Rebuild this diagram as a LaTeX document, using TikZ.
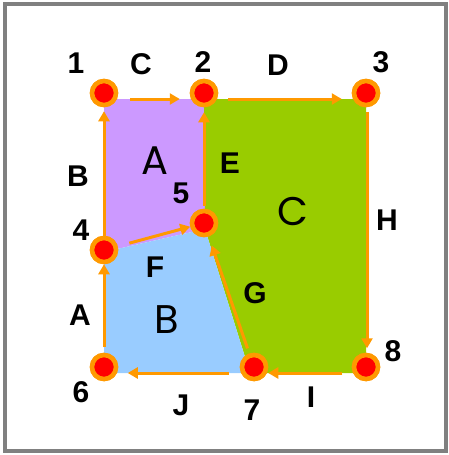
\documentclass[tikz,border=0pt]{standalone}
\usepackage{fontspec}
\setmainfont{Liberation Sans}
\newfontfamily\regfont{Poppins}
\usetikzlibrary{arrows.meta}
\definecolor{cpurple}{HTML}{CC99FF}
\definecolor{cgreen}{HTML}{99CC00}
\definecolor{cblue}{HTML}{99CCFF}
\definecolor{corange}{HTML}{FF9900}
\definecolor{cred}{HTML}{FF0000}
\definecolor{cframe}{HTML}{808080}
\tikzset{
  vtx/.style={circle, fill=cred, draw=corange, line width=4.5pt, minimum size=24pt, inner sep=0pt},
  arr/.style={draw=corange, line width=3pt, -{Triangle[length=10pt,width=11pt]}},
  lbl/.style={font=\fontsize{30}{30}\selectfont\bfseries, text=black, inner sep=0pt},
  reg/.style={font=\fontsize{40}{40}\regfont, text=black, inner sep=0pt}
}
\begin{document}
\begin{tikzpicture}[x=1pt,y=-1pt]
\useasboundingbox (0,0) rectangle (449,455);
\draw[cframe, line width=4.5pt] (5,4) rectangle (446,451);
% polygon corners
\coordinate (p1) at (104,99);
\coordinate (p2) at (204,99);
\coordinate (p3) at (366,99);
\coordinate (p4) at (104,252);
\coordinate (p5) at (205,229);
\coordinate (p6) at (104,373);
\coordinate (p7) at (250,373);
\coordinate (p8) at (366,373);
\fill[cpurple] (p1) -- (p2) -- (p5) -- (p4) -- cycle;
\fill[cgreen] (p2) -- (p3) -- (p8) -- (p7) -- (p5) -- cycle;
\fill[cblue] (p4) -- (p5) -- (p7) -- (p6) -- cycle;
% vertices
\node[vtx] (n1) at (104,93) {};
\node[vtx] (n2) at (204,93) {};
\node[vtx] (n3) at (366,93) {};
\node[vtx] (n4) at (104,250) {};
\node[vtx] (n5) at (204,223) {};
\node[vtx] (n6) at (104,367) {};
\node[vtx] (n7) at (254,367) {};
\node[vtx] (n8) at (366,367) {};
% arrows
\draw[arr, shorten <=12pt, shorten >=10pt] ([yshift=-6pt]n1.east) -- ([yshift=-6pt]n2.west);
\draw[arr, shorten <=10pt, shorten >=10pt] ([yshift=-6pt]n2.east) -- ([yshift=-6pt]n3.west);
\draw[arr, shorten <=0pt, shorten >=4pt] (n4.north) -- (n1.south);
\draw[arr, shorten <=3pt, shorten >=5pt] (n5.north) -- (n2.south);
\draw[arr, shorten <=4.5pt, shorten >=4.5pt] ([xshift=1pt]n3.south) -- ([xshift=1pt]n8.north);
\draw[arr, shorten <=9.5pt, shorten >=0pt] ([yshift=-6pt]n8.west) -- ([yshift=-6pt]n7.east);
\draw[arr, shorten <=11pt, shorten >=9.5pt] ([yshift=-6pt]n7.west) -- ([yshift=-6pt]n6.east);
\draw[arr, shorten <=5.5pt, shorten >=0pt] (n6.north) -- (n4.south);
\draw[arr, shorten <=12pt, shorten >=0pt] (n4) -- (n5);
\draw[arr, shorten <=5.5pt, shorten >=9.5pt] (n7) -- (n5);
% redraw vertices on top
\node[vtx] at (n1) {};
\node[vtx] at (n2) {};
\node[vtx] at (n3) {};
\node[vtx] at (n4) {};
\node[vtx] at (n5) {};
\node[vtx] at (n6) {};
\node[vtx] at (n7) {};
\node[vtx] at (n8) {};
% labels
\node[lbl] (l1) at (76,63) {1};
\node[lbl] (l2) at (203,62) {2};
\node[lbl] (l3) at (381,62) {3};
\node[lbl] (l4) at (81,230) {4};
\node[lbl] (l5) at (181,193) {5};
\node[lbl] (l6) at (81,392) {6};
\node[lbl] (l7) at (252,410) {7};
\node[lbl] (l8) at (393,351) {8};
\node[lbl] (eC) at (141,64) {C};
\node[lbl] (eD) at (278,65) {D};
\node[lbl] (eB) at (78,176) {B};
\node[lbl] (eE) at (230,163) {E};
\node[lbl] (eH) at (387,220) {H};
\node[lbl] (eA) at (80,315) {A};
\node[lbl] (eF) at (155,267) {F};
\node[lbl] (eG) at (255,293) {G};
\node[lbl] (eJ) at (181,405) {J};
\node[lbl] (eI) at (311,397) {I};
\node[reg] (rA) at (155,161) {A};
\node[reg] (rB) at (167,320) {B};
\node[reg] (rC) at (293,211) {C};
\end{tikzpicture}
\end{document}
